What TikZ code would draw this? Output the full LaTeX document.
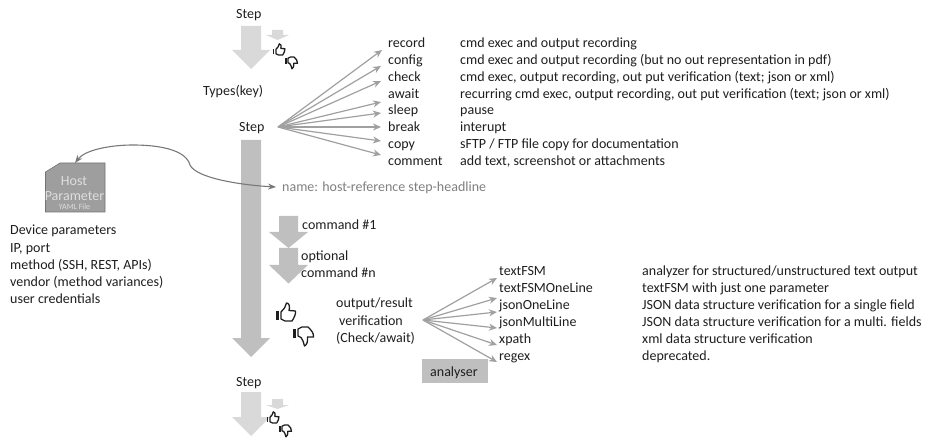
\documentclass[tikz,border=0pt]{standalone}
\usepackage{fontspec}
\setmainfont{Carlito}
\usetikzlibrary{arrows.meta}
\definecolor{textdark}{RGB}{30, 30, 30}
\definecolor{textgray}{RGB}{128, 128, 128}
\definecolor{arrowgray}{RGB}{160, 160, 160}
\definecolor{steplight}{RGB}{217, 217, 217}
\definecolor{stepmid}{RGB}{191, 191, 191}
\definecolor{hostgray}{RGB}{158, 158, 158}
\definecolor{hostline}{RGB}{115, 115, 115}
\definecolor{hosttext}{RGB}{222, 222, 222}
\definecolor{curvegray}{RGB}{120, 120, 120}

\begin{document}
\begin{tikzpicture}[
    x=1pt, y=-1pt,
    label/.style={anchor=west, inner sep=0pt, text height=13pt, text depth=3pt, font=\fontsize{14}{16}\selectfont, color=textdark},
    hosttxt/.style={inner sep=0pt, color=hosttext},
    arrow/.style={-{Stealth[length=8pt, width=7pt]}, line width=1.2pt, color=arrowgray},
    thin arrow/.style={line width=1.1pt, color=curvegray},
    thumbup/.pic={
        \fill[textdark] (-10,-2) rectangle (-7.5,7);
        \draw[textdark, line width=1.3pt, line join=round] (-5,-1) -- (-1.5,-5) -- (0.5,-10) .. controls (3.5,-10) and (4,-6) .. (3,-2.5) -- (9.5,-2) .. controls (10,1) and (8,5) .. (6,8) -- (-1,8) -- (-5,6) -- cycle;
    },
    thumbdown/.pic={
        \fill[textdark] (-10,-6) rectangle (-7,3);
        \draw[textdark, line width=1.3pt, line join=round] (-5,-6) -- (-1,-8) -- (5,-8) .. controls (8,-5) and (11,-2) .. (10.5,2) -- (4.5,2) .. controls (5,6) and (4,10) .. (1.5,11) -- (0,6) -- (-2,2.5) -- (-5,1) -- cycle;
    },
]
\useasboundingbox (0,0) rectangle (934,438);

% Top step
\node[label] (steptop) at (236,14) {Step};
\fill[steplight] (241,26) -- (261,26) -- (261,50) -- (270,50) -- (251,69) -- (232,50) -- (241,50) -- cycle;
\fill[steplight] (272,30) -- (283,30) -- (283,35) -- (289,35) -- (277.5,40) -- (266,35) -- (272,35) -- cycle;
\pic[scale=0.62] at (279,50) {thumbup};
\pic[scale=0.62] at (291,62) {thumbdown};
\node[label] (types) at (203,91) {Types(key)};

% Main step
\node[label] (stepmain) at (239,127) {Step};
\fill[stepmid] (241,140) -- (261,140) -- (261,338) -- (270,338) -- (251,357) -- (232,338) -- (241,338) -- cycle;
\coordinate (typeshub) at (278,127);

% Step types
\node[label] (record) at (388,43) {record};
\node[label] (config) at (388,60) {config};
\node[label] (check) at (388,77) {check};
\node[label] (await) at (388,94) {await};
\node[label] (sleep) at (388,110) {sleep};
\node[label] (break) at (388,127) {break};
\node[label] (copy) at (388,144) {copy};
\node[label] (comment) at (388,161) {comment};

\node[label] at (460,43) {cmd exec and output recording};
\node[label] at (460,60) {cmd exec and output recording (but no out representation in pdf)};
\node[label] at (460,77) {cmd exec, output recording, out put verification (text; json or xml)};
\node[label] at (460,94) {recurring cmd exec, output recording, out put verification (text; json or xml)};
\node[label] at (460,110) {pause};
\node[label] at (460,127) {interupt};
\node[label] at (460,144) {sFTP / FTP file copy for documentation};
\node[label] at (460,161) {add text, screenshot or attachments};

\draw[arrow] (typeshub) -- ([shift={(-6,7)}]record.west);
\draw[arrow] (typeshub) -- ([shift={(-7,6)}]config.west);
\draw[arrow] (typeshub) -- ([shift={(-7,4)}]check.west);
\draw[arrow] (typeshub) -- ([shift={(-7,8)}]await.west);
\draw[arrow] (typeshub) -- ([shift={(-7,3)}]sleep.west);
\draw[arrow] (typeshub) -- ([shift={(-7,0)}]break.west);
\draw[arrow] (typeshub) -- ([shift={(-7,-3)}]copy.west);
\draw[arrow] (typeshub) -- ([shift={(-7,-6)}]comment.west);

% Host file
\node[label, color=textgray] (name) at (282,187) {name: host-reference step-headline};
\draw[hostline, fill=hostgray, line width=0.6pt] (45.5,172) -- (60,163) -- (105,163) -- (105,212) -- (45.5,212) -- cycle;
\coordinate (hostfile) at (75,163);
\node[hosttxt, font=\fontsize{14}{16}\selectfont] (hostname) at (74,181) {Host};
\node[hosttxt, font=\fontsize{14}{16}\selectfont] (hostparam) at (74.5,196) {Parameter};
\node[hosttxt, font=\fontsize{8}{10}\selectfont] (hostyaml) at (74.5,207) {YAML File};
\draw[thin arrow, {Stealth[length=8pt, width=6pt]}-{Stealth[length=8pt, width=6pt]}] (hostfile) .. controls (85,150) and (110,145) .. (133,145) .. controls (160,145) and (186,150) .. (190,165) .. controls (196,178) and (240,185) .. ([xshift=-6pt]name.west);

% Device parameters
\node[label] (device) at (10,230) {Device parameters};
\node[label] (ipport) at (10,247.5) {IP, port};
\node[label] (method) at (10,264.5) {method (SSH, REST, APIs)};
\node[label] (vendor) at (10,281.5) {vendor (method variances)};
\node[label] (user) at (10,298) {user credentials};

% Commands
\fill[stepmid] (279,216) -- (298,216) -- (298,232) -- (308,232) -- (288.5,248) -- (269,232) -- (279,232) -- cycle;
\fill[stepmid] (279,248) -- (298,248) -- (298,265) -- (308,265) -- (288.5,283.5) -- (269,265) -- (279,265) -- cycle;
\node[label] (cmdone) at (302,225) {command \#1};
\node[label] (optional) at (301,256) {optional};
\node[label] (cmdn) at (301,273) {command \#n};

% Verification
\pic at (286,313) {thumbup};
\pic at (303,335) {thumbdown};
\node[label] (output) at (336,303) {output/result};
\node[label] (verif) at (339,320) {verification};
\node[label] (checkawait) at (336,337) {(Check/await)};
\coordinate (verifhub) at (423,320);

% Analysers
\node[label] (textfsm) at (499,271) {textFSM};
\node[label] (textone) at (499,288) {textFSMOneLine};
\node[label] (jsonone) at (499,304) {jsonOneLine};
\node[label] (jsonmulti) at (499,321) {jsonMultiLine};
\node[label] (xpath) at (499,338) {xpath};
\node[label] (regex) at (499,355) {regex};

\node[label] at (642,271) {analyzer for structured/unstructured text output};
\node[label] at (642,288) {textFSM with just one parameter};
\node[label] at (642,304) {JSON data structure verification for a single field};
\node[label] at (642,321) {JSON data structure verification for a multi. fields};
\node[label] at (642,338) {xml data structure verification};
\node[label] at (642,355) {deprecated.};

\draw[arrow] (verifhub) -- ([shift={(-2,7)}]textfsm.west);
\draw[arrow] (verifhub) -- ([shift={(-2,10)}]textone.west);
\draw[arrow] (verifhub) -- ([shift={(-2,8)}]jsonone.west);
\draw[arrow] (verifhub) -- ([shift={(-2,7)}]jsonmulti.west);
\draw[arrow] (verifhub) -- ([shift={(-2,7)}]xpath.west);
\draw[arrow] (verifhub) -- ([shift={(-2,7)}]regex.west);

\node[rectangle, fill=stepmid, minimum width=66pt, minimum height=24pt, inner sep=0pt] (analyser) at (455,371) {};
\node[label] (analysertxt) at (430,371) {analyser};

% Bottom step
\node[label] (stepnext) at (236,381) {Step};
\fill[steplight] (241,392) -- (261,392) -- (261,417) -- (270,417) -- (251,436) -- (232,417) -- (241,417) -- cycle;
\fill[steplight] (272,399) -- (283,399) -- (283,405) -- (289,405) -- (277.5,409) -- (266,405) -- (272,405) -- cycle;
\pic[scale=0.62] at (273,418) {thumbup};
\pic[scale=0.62] at (285,430) {thumbdown};

\end{tikzpicture}
\end{document}
